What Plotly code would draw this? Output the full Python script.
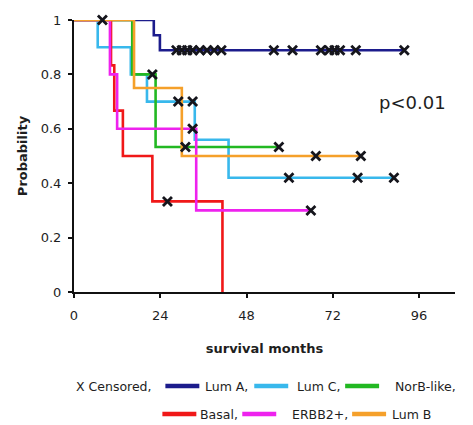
import plotly.graph_objects as go

# Kaplan-Meier survival by subtype: event times with survival after each event,
# plus censoring times.
groups = ["Lum A", "Lum C", "NorB-like", "Basal", "ERBB2+", "Lum B"]
colors = ["#1c1c8c", "#38b8ec", "#22b822", "#f01818", "#ee22ee", "#f5a02a"]

lumA_event_t = [22.2, 23.9]
lumA_event_s = [0.944, 0.889]
lumA_cens_t = [7.9, 28.5, 30.0, 31.5, 33.0, 35.0, 37.0, 39.0, 41.0,
               55.6, 60.8, 68.7, 71.0, 72.5, 74.0, 78.4, 91.9]

lumC_event_t = [6.6, 15.8, 20.3, 33.6, 43.0]
lumC_event_s = [0.9, 0.8, 0.7, 0.56, 0.42]
lumC_cens_t = [29.0, 33.0, 59.8, 78.9, 89.0]

norb_event_t = [16.2, 22.7]
norb_event_s = [0.8, 0.533]
norb_cens_t = [21.8, 31.0, 57.0]

basal_event_t = [10.3, 11.2, 13.6, 21.8, 41.3]
basal_event_s = [0.833, 0.667, 0.5, 0.333, 0.0]
basal_cens_t = [26.0]

erbb2_event_t = [10.0, 12.0, 34.0]
erbb2_event_s = [0.8, 0.6, 0.3]
erbb2_cens_t = [33.0, 65.9]

lumB_event_t = [16.7, 30.0]
lumB_event_s = [0.75, 0.5]
lumB_cens_t = [67.3, 79.8]

series = [
    (lumA_event_t, lumA_event_s, lumA_cens_t),
    (lumC_event_t, lumC_event_s, lumC_cens_t),
    (norb_event_t, norb_event_s, norb_cens_t),
    (basal_event_t, basal_event_s, basal_cens_t),
    (erbb2_event_t, erbb2_event_s, erbb2_cens_t),
    (lumB_event_t, lumB_event_s, lumB_cens_t),
]

x_ticks = [0, 24, 48, 72, 96]
y_ticks = [0, 0.2, 0.4, 0.6, 0.8, 1]
y_tick_text = ["0", "0.2", "0.4", "0.6", "0.8", "1"]

legend_labels = ["X Censored,", "Lum A,", "Lum C,", "NorB-like,",
                 "Basal,", "ERBB2+,", "Lum B"]


def surv_at(t, ev_t, ev_s):
    s = 1.0
    for et, es in zip(ev_t, ev_s):
        if et <= t:
            s = es
    return s


fig = go.Figure()

cross_x, cross_y = [], []
for name, col, (ev_t, ev_s, cen_t) in zip(groups, colors, series):
    end_t = max(ev_t + cen_t)
    xs = [0] + ev_t
    ys = [1.0] + ev_s
    if end_t > xs[-1]:
        xs.append(end_t)
        ys.append(ys[-1])
    fig.add_trace(go.Scatter(x=xs, y=ys, mode="lines", line_shape="hv",
                             line=dict(color=col, width=2.6), name=name,
                             cliponaxis=False, showlegend=False))
    for c in cen_t:
        cross_x.append(c)
        cross_y.append(surv_at(c, ev_t, ev_s))

fig.add_trace(go.Scatter(x=cross_x, y=cross_y, mode="markers",
                         marker=dict(symbol="x-thin-open", size=9,
                                     color="#15151c",
                                     line=dict(color="#15151c", width=2.8)),
                         cliponaxis=False, showlegend=False))

W, H = 473, 425
L, R, T, B = 73.5, 18, 20, 133
pw, ph = W - L - R, H - T - B


def px(x):
    return (x - L) / pw


def py(y):
    return (H - B - y) / ph


font = "DejaVu Sans, Arial, sans-serif"
txt = "#1e1e1e"

fig.add_annotation(x=px(412), y=py(102), xref="paper", yref="paper",
                   text="p<0.01", showarrow=False, xanchor="center",
                   yanchor="middle",
                   font=dict(family=font, size=18, color=txt))

# Legend rows: (label, swatch colour, swatch start, text start, row y)
legend_items = [
    (legend_labels[0], None, None, 73, 386),
    (legend_labels[1], colors[0], 165, 203, 386),
    (legend_labels[2], colors[1], 254, 295, 386),
    (legend_labels[3], colors[2], 345, 393, 386),
    (legend_labels[4], colors[3], 162, 198, 414),
    (legend_labels[5], colors[4], 242, 290, 414),
    (legend_labels[6], colors[5], 352, 390, 414),
]
for label, col, sx, tx, ypix in legend_items:
    if col is not None:
        fig.add_shape(type="line", xref="paper", yref="paper",
                      x0=px(sx), x1=px(sx + 34), y0=py(ypix), y1=py(ypix),
                      line=dict(color=col, width=4.5))
    fig.add_annotation(x=px(tx), y=py(ypix), xref="paper", yref="paper",
                       text=label, showarrow=False, xanchor="left",
                       yanchor="middle",
                       font=dict(family=font, size=12.5, color=txt))

fig.update_layout(
    width=W, height=H,
    margin=dict(l=L, r=R, t=T, b=B),
    paper_bgcolor="white", plot_bgcolor="white",
    font=dict(family=font, color=txt, size=13),
    xaxis=dict(range=[0, 106], tickvals=x_ticks, showgrid=False, zeroline=False,
               showline=True, linecolor="#111", linewidth=2,
               ticks="outside", ticklen=4, tickwidth=2, tickcolor="#111",
               ticklabelstandoff=6,
               tickfont=dict(family=font, size=13, color=txt),
               title=dict(text="<b>survival months</b>", standoff=22,
                          font=dict(family=font, size=13, color=txt))),
    yaxis=dict(range=[0, 1], tickvals=y_ticks, ticktext=y_tick_text,
               showgrid=False, zeroline=False,
               showline=True, linecolor="#111", linewidth=2,
               ticks="outside", ticklen=4, tickwidth=2, tickcolor="#111",
               ticklabelstandoff=4,
               tickfont=dict(family=font, size=13, color=txt),
               title=dict(text="<b>Probability</b>", standoff=10,
                          font=dict(family=font, size=13, color=txt))),
)

fig.write_html("out.html")
